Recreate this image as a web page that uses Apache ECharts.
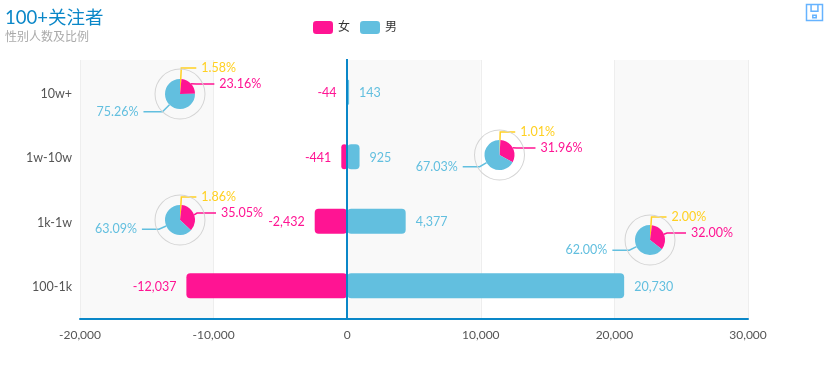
<!DOCTYPE html>
<html>
<head>
<meta charset="utf-8">
<script src="https://cdn.jsdelivr.net/npm/echarts@6/dist/echarts.min.js"></script>
<style>
html,body{margin:0;padding:0;background:#fff;}
#main{width:827px;height:378px;}
</style>
</head>
<body>
<div id="main"></div>
<script type="text/javascript">
var categories = ['100-1k', '1k-1w', '1w-10w', '10w+'];
var female = [-12037, -2432, -441, -44];
var male = [20730, 4377, 925, 143];
var sliceNames = ['其他', '女', '男'];
var share10w = [1.58, 23.16, 75.26];
var share1w10w = [1.01, 31.96, 67.03];
var share1k1w = [1.86, 35.05, 63.09];
var share1001k = [2.00, 32.00, 62.00];

var pink = '#ff1493', blue = '#62bfdf', yellow = '#ffd021', lineBlue = '#0a87c8';
var font = 'Lato, "Noto Sans CJK SC", sans-serif';

function barSeries(name, values, color, pos) {
	return {
		name: name,
		type: 'bar',
		stack: 'total',
		barWidth: 25,
		data: values,
		itemStyle: { color: color, borderRadius: 4 },
		label: {
			show: true,
			position: pos,
			distance: 10,
			offset: [0, 1],
			color: color,
			fontSize: 12.5,
			fontFamily: font,
			formatter: function (p) { return echarts.format.addCommas(p.value); }
		}
	};
}

// one small pie plus the thin ring around it
function pieSeries(values, center, lineLen, lineLen2) {
	var colors = [yellow, pink, blue];
	return [{
		type: 'pie',
		radius: [0, 15],
		center: center,
		startAngle: 90,
		animation: false,
		silent: true,
		data: values.map(function (v, i) {
			return {
				name: sliceNames[i],
				value: v,
				itemStyle: { color: colors[i] },
				label: { color: colors[i] },
				labelLine: { length: lineLen[i], length2: lineLen2[i], lineStyle: { color: colors[i] } }
			};
		}),
		label: {
			fontSize: 12.5,
			lineHeight: 14,
			fontFamily: font,
			formatter: function (p) { return p.value.toFixed(2) + '%'; }
		},
		labelLine: { lineStyle: { width: 1.5 } }
	}, {
		type: 'pie',
		radius: [24.5, 25.5],
		center: center,
		silent: true,
		animation: false,
		label: { show: false },
		labelLine: { show: false },
		itemStyle: { color: '#d4d4d4' },
		data: [1]
	}];
}

var maleBars = barSeries('男', male, blue, 'right');
var femaleBars = barSeries('女', female, pink, 'left');
femaleBars.markLine = {
	silent: true,
	symbol: 'none',
	animation: false,
	label: { show: false },
	lineStyle: { color: lineBlue, width: 2, type: 'solid', cap: 'square' },
	data: [{ xAxis: 0 }]
};

var myChart = echarts.init(document.getElementById('main'));
var option = {
	animation: false,
	textStyle: { fontFamily: font },
	title: {
		text: '100+关注者',
		subtext: '性别人数及比例',
		left: 5,
		top: 6,
		itemGap: 4,
		padding: [3, 0, 0, 0],
		textStyle: { fontSize: 18.5, fontWeight: 'normal', color: lineBlue, fontFamily: font },
		subtextStyle: { fontSize: 12, color: '#aaa', fontFamily: font }
	},
	legend: {
		data: ['女', '男'],
		left: 313,
		top: 21,
		padding: 0,
		itemWidth: 20,
		itemHeight: 13,
		itemGap: 10,
		textStyle: { fontSize: 12, color: '#333', fontFamily: font }
	},
	toolbox: {
		show: true,
		right: -13,
		top: -13,
		itemSize: 16,
		itemGap: 0,
		feature: {
			saveAsImage: {
				show: true,
				icon: 'path://M2,2L30,2L30,30L2,30ZM10,2L10,14L22,14L22,2M13,21L19,21L19,25L13,25Z',
				iconStyle: { borderColor: '#66b3ff', borderWidth: 1.5, color: 'none' }
			}
		}
	},
	grid: { left: 80, right: 79, top: 60, bottom: 60 },
	xAxis: {
		type: 'value',
		min: -20000,
		max: 30000,
		interval: 10000,
		offset: 1,
		axisLine: { show: true, lineStyle: { color: lineBlue, width: 2 } },
		axisTick: { show: false },
		axisLabel: { color: '#555', fontSize: 12, margin: 10 },
		splitLine: { show: true, lineStyle: { color: '#eee' } },
		splitArea: { show: true, areaStyle: { color: ['#f9f9f9', '#fff'] } }
	},
	yAxis: {
		type: 'category',
		data: categories,
		axisLine: { show: false, onZero: false },
		axisTick: { show: false },
		axisLabel: { color: '#555', fontSize: 12.5, margin: 8, verticalAlign: 'top', lineHeight: 3 },
		splitLine: { show: true, lineStyle: { color: '#eee' } }
	},
	series: [femaleBars, maleBars]
		.concat(pieSeries(share10w, [180, 94], [11, 8, 10], [15, 18, 19]))
		.concat(pieSeries(share1w10w, [499.5, 155], [8, 8, 8], [15, 19, 17]))
		.concat(pieSeries(share1k1w, [180, 220], [8, 8, 8], [15, 19, 17]))
		.concat(pieSeries(share1001k, [650, 240], [8, 8, 8], [15, 19, 17]))
};
myChart.setOption(option);
</script>
</body>
</html>
